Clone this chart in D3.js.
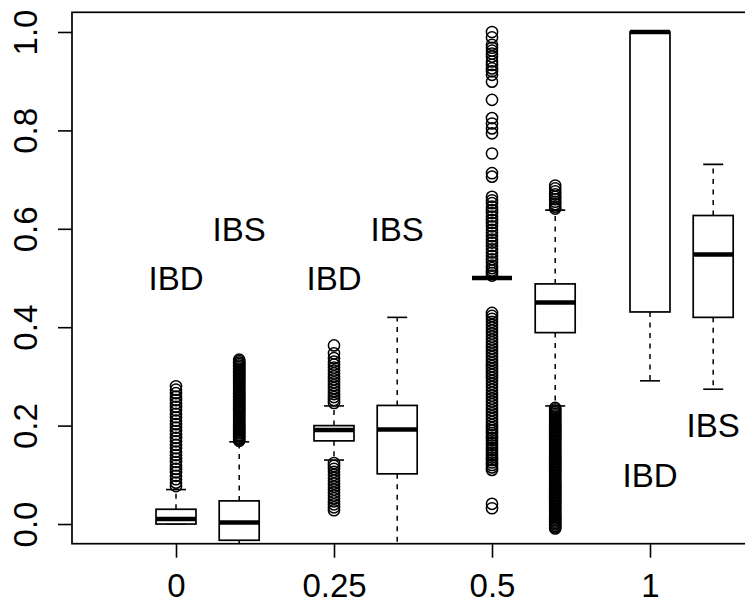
<!DOCTYPE html>
<html>
<head>
<meta charset="utf-8">
<script src="https://cdn.jsdelivr.net/npm/d3@7"></script>
<style>
  body { margin: 0; background: #fff; }
  svg { display: block; font-family: Helvetica, Arial, "Liberation Sans", sans-serif; }
</style>
</head>
<body>
<div id="chart"></div>
<script>
/* global d3 */
const groups = ['0', '0.25', '0.5', '1'];
const series = ['IBD', 'IBS'];

// box stats, one entry per box: IBD 0, IBS 0, IBD 0.25, IBS 0.25, ...
const whiskLow = [0, -0.06, 0.13, -0.1, 0.5, 0.24, 0.291, 0.274];
const q1s = [0, -0.033, 0.169, 0.102, 0.5, 0.389, 0.431, 0.42];
const medians = [0.01, 0.003, 0.191, 0.192, 0.5, 0.45, 1.0, 0.548];
const q3s = [0.03, 0.047, 0.2, 0.241, 0.5, 0.488, 1.0, 0.627];
const whiskHigh = [0.07, 0.167, 0.24, 0.42, 0.5, 0.638, 1.0, 0.731];

const outIBD0 = [0.28, 0.273, 0.266, 0.259, 0.252, 0.245, 0.238, 0.231, 0.224, 0.217, 0.21,
  0.203, 0.196, 0.189, 0.182, 0.175, 0.168, 0.161, 0.154, 0.147, 0.14, 0.133, 0.126, 0.119,
  0.112, 0.105, 0.098, 0.091, 0.084, 0.077];
const outIBS0 = [0.334, 0.331, 0.328, 0.325, 0.322, 0.319, 0.316, 0.313, 0.31, 0.307, 0.304,
  0.301, 0.298, 0.295, 0.292, 0.289, 0.286, 0.283, 0.28, 0.277, 0.274, 0.271, 0.268, 0.265,
  0.262, 0.259, 0.256, 0.253, 0.25, 0.247, 0.244, 0.241, 0.238, 0.235, 0.232, 0.229, 0.226,
  0.223, 0.22, 0.217, 0.214, 0.211, 0.208, 0.205, 0.202, 0.199, 0.196, 0.193, 0.19, 0.187,
  0.184, 0.181, 0.178, 0.175, 0.172, 0.169];
const outIBD025 = [0.363, 0.347, 0.337, 0.33, 0.324, 0.318, 0.312, 0.306, 0.3, 0.294, 0.288,
  0.282, 0.276, 0.27, 0.264, 0.258, 0.252, 0.246,
  0.124, 0.118, 0.112, 0.106, 0.1, 0.094, 0.088, 0.082, 0.076, 0.07, 0.064, 0.058, 0.052,
  0.046, 0.04, 0.034, 0.028];
const outIBS025 = [];
const outIBD05 = [1.0, 0.989, 0.974, 0.968, 0.962, 0.956, 0.95, 0.94, 0.933, 0.926, 0.92,
  0.913, 0.899, 0.862, 0.825, 0.814, 0.804, 0.794, 0.753, 0.713, 0.706, 0.665, 0.658, 0.652,
  0.645, 0.638, 0.632, 0.625, 0.618, 0.612, 0.605, 0.598, 0.592, 0.585, 0.578, 0.572, 0.565,
  0.558, 0.552, 0.545, 0.538, 0.532, 0.525, 0.52, 0.515, 0.51, 0.505,
  0.429, 0.423, 0.417, 0.411, 0.405, 0.399, 0.393, 0.387, 0.381, 0.375, 0.369, 0.363, 0.357,
  0.351, 0.345, 0.339, 0.333, 0.327, 0.321, 0.315, 0.309, 0.303, 0.297, 0.291, 0.285, 0.279,
  0.273, 0.267, 0.261, 0.255, 0.249, 0.243, 0.237, 0.231, 0.225, 0.219, 0.213, 0.207, 0.201,
  0.195, 0.19, 0.185, 0.18, 0.175, 0.17, 0.165, 0.16, 0.155, 0.15, 0.145, 0.14, 0.135, 0.13,
  0.125, 0.12, 0.115, 0.11, 0.041, 0.032];
const outIBS05 = [0.688, 0.682, 0.676, 0.67, 0.665, 0.66, 0.655, 0.65, 0.645, 0.641,
  0.236, 0.233, 0.23, 0.227, 0.224, 0.221, 0.218, 0.215, 0.212, 0.209, 0.206, 0.203, 0.2,
  0.197, 0.194, 0.191, 0.188, 0.185, 0.182, 0.179, 0.176, 0.173, 0.17, 0.167, 0.164, 0.161,
  0.158, 0.155, 0.152, 0.149, 0.146, 0.143, 0.14, 0.137, 0.134, 0.131, 0.128, 0.125, 0.122,
  0.119, 0.116, 0.113, 0.11, 0.107, 0.104, 0.101, 0.098, 0.095, 0.092, 0.089, 0.086, 0.083,
  0.08, 0.077, 0.074, 0.071, 0.068, 0.065, 0.062, 0.059, 0.056, 0.053, 0.05, 0.047, 0.044,
  0.041, 0.038, 0.035, 0.032, 0.029, 0.026, 0.023, 0.02, 0.017, 0.014, 0.011, 0.008, 0.005,
  0.002, -0.001, -0.004, -0.007, -0.009];
const outIBD1 = [];
const outIBS1 = [];
const outliers = [outIBD0, outIBS0, outIBD025, outIBS025, outIBD05, outIBS05, outIBD1, outIBS1];

// where the IBD / IBS words sit, per group (null = no label)
const labelIBD = [0.5, 0.5, null, 0.1];
const labelIBS = [0.6, 0.6, null, 0.2];

// dimension stuff
const width = 745;
const height = 601;
const plotLeft = 72;
const plotRight = 823; // runs off the right edge, as in the original
const plotTop = 12.3;
const plotBottom = 543.7;
const BOX_W = 0.253;
const SHIFT = 0.4;
const FONT = 33;

const scaleX = d3.scaleLinear().domain([1, 4]).range([176, 650]);
const scaleY = d3.scaleLinear().domain([-0.04, 1.04]).range([plotBottom, plotTop]);

const boxes = medians.map((m, i) => ({
  pos: Math.floor(i / 2) + 1 + (i % 2 ? SHIFT : 0),
  lo: whiskLow[i],
  q1: q1s[i],
  med: m,
  q3: q3s[i],
  hi: whiskHigh[i],
  out: outliers[i],
}));

const $svg = d3.select('#chart').append('svg')
  .attr('width', width)
  .attr('height', height);

$svg.append('defs').append('clipPath').attr('id', 'plot-clip')
  .append('rect')
  .attr('x', plotLeft)
  .attr('y', plotTop)
  .attr('width', plotRight - plotLeft)
  .attr('height', plotBottom - plotTop);

const $vis = $svg.append('g').attr('clip-path', 'url(#plot-clip)');

const $box = $vis.selectAll('.box').data(boxes).join('g').attr('class', 'box');

const halfW = d => (scaleX(d.pos + BOX_W / 2) - scaleX(d.pos - BOX_W / 2)) / 2;

// whiskers
[['q3', 'hi'], ['q1', 'lo']].forEach(([a, b]) => {
  $box.append('line')
    .attr('x1', d => scaleX(d.pos))
    .attr('x2', d => scaleX(d.pos))
    .attr('y1', d => scaleY(d[a]))
    .attr('y2', d => scaleY(d[b]))
    .attr('stroke', '#000')
    .attr('stroke-width', 1.5)
    .attr('stroke-dasharray', '5,5.5');
  $box.append('line')
    .attr('x1', d => scaleX(d.pos) - halfW(d) / 2)
    .attr('x2', d => scaleX(d.pos) + halfW(d) / 2)
    .attr('y1', d => scaleY(d[b]))
    .attr('y2', d => scaleY(d[b]))
    .attr('stroke', '#000')
    .attr('stroke-width', 1.6);
});

$box.append('rect')
  .attr('x', d => scaleX(d.pos) - halfW(d))
  .attr('width', d => 2 * halfW(d))
  .attr('y', d => scaleY(d.q3))
  .attr('height', d => scaleY(d.q1) - scaleY(d.q3))
  .attr('fill', '#fff')
  .attr('stroke', '#000')
  .attr('stroke-width', 1.7);

$box.append('line')
  .attr('x1', d => scaleX(d.pos) - halfW(d))
  .attr('x2', d => scaleX(d.pos) + halfW(d))
  .attr('y1', d => scaleY(d.med))
  .attr('y2', d => scaleY(d.med))
  .attr('stroke', '#000')
  .attr('stroke-width', 4.5);

$box.selectAll('circle')
  .data(d => d.out.map(v => ({ pos: d.pos, v })))
  .join('circle')
  .attr('cx', d => scaleX(d.pos))
  .attr('cy', d => scaleY(d.v))
  .attr('r', 5.6)
  .attr('fill', 'none')
  .attr('stroke', '#000')
  .attr('stroke-width', 1.5);

// plot frame
$svg.append('rect')
  .attr('x', plotLeft)
  .attr('y', plotTop)
  .attr('width', plotRight - plotLeft)
  .attr('height', plotBottom - plotTop)
  .attr('fill', 'none')
  .attr('stroke', '#000')
  .attr('stroke-width', 1.7);

// axes
const $yAxis = $svg.append('g')
  .attr('transform', `translate(${plotLeft},0)`)
  .call(d3.axisLeft(scaleY)
    .tickValues([0, 0.2, 0.4, 0.6, 0.8, 1])
    .tickFormat(d3.format('.1f'))
    .tickSize(14)
    .tickSizeOuter(0));
$yAxis.select('.domain').remove();
$yAxis.selectAll('line').attr('stroke-width', 1.6);
$yAxis.selectAll('text')
  .attr('x', 0)
  .attr('y', -35)
  .attr('dy', 0)
  .attr('transform', 'rotate(-90)')
  .attr('text-anchor', 'middle')
  .attr('font-size', FONT)
  .attr('font-family', null)
  .attr('fill', '#000');

const $xAxis = $svg.append('g')
  .attr('transform', `translate(0,${plotBottom})`)
  .call(d3.axisBottom(scaleX)
    .tickValues([1, 2, 3, 4])
    .tickFormat((d, i) => groups[i])
    .tickSize(14)
    .tickSizeOuter(0));
$xAxis.select('.domain').remove();
$xAxis.selectAll('line').attr('stroke-width', 1.6);
$xAxis.selectAll('text')
  .attr('y', 53)
  .attr('dy', 0)
  .attr('font-size', FONT)
  .attr('font-family', null)
  .attr('fill', '#000');

// IBD / IBS words
const labels = [];
groups.forEach((g, i) => {
  if (labelIBD[i] !== null) labels.push({ text: series[0], pos: i + 1, v: labelIBD[i] });
  if (labelIBS[i] !== null) labels.push({ text: series[1], pos: i + 1 + SHIFT, v: labelIBS[i] });
});

$svg.selectAll('.word').data(labels).join('text')
  .attr('class', 'word')
  .attr('x', d => scaleX(d.pos))
  .attr('y', d => scaleY(d.v) + FONT * 0.36)
  .attr('text-anchor', 'middle')
  .attr('font-size', FONT)
  .text(d => d.text);
</script>
</body>
</html>
